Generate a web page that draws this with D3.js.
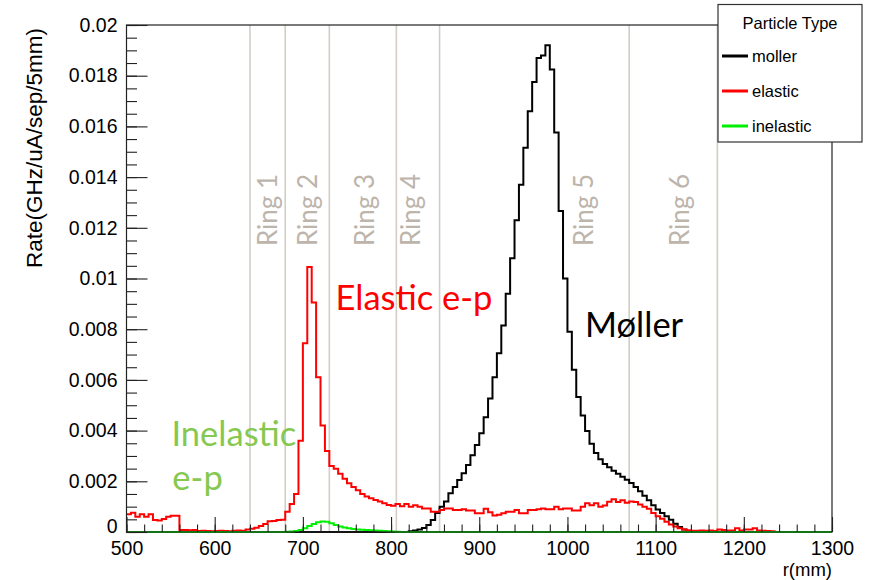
<!DOCTYPE html>
<html><head><meta charset="utf-8">
<script src="https://cdn.jsdelivr.net/npm/d3@7"></script>
<style>body{margin:0;background:#fff}svg{display:block}</style>
</head><body>
<svg id="chart" width="871" height="580"></svg>
<script>
// ---- data (rate in GHz/uA/sep/5mm, 5 mm bins from 500 mm) ----
const binStart = 500;
const binWidth = 5;
const moller = [
 0,0,0,0,0,0,0,0,0,0, 0,0,0,0,0,0,0,0,0,0,
 0,0,0,0,0,0,0,0,0,0, 0,0,0,0,0,0,0,0,0,0,
 0,0,0,0,0,0,0,0,0,0, 0,0,0,0,0,0,0,0,0,0,
 0,0,0,0,
 0.00003,0.00006,0.0001,0.00016,0.00028,0.00047,0.00075,0.001,0.0012,0.00153,
 0.00178,0.00205,0.00232,0.00264,0.00303,0.00343,0.0039,0.00453,0.00527,0.0061,
 0.00705,0.00815,0.0094,0.0108,0.0123,0.0137,0.01516,0.0166,0.01775,0.0187,
 0.0188,0.0192,0.01824,0.01576,0.01266,0.01,0.0079,0.0064,0.00533,0.0046,
 0.00398,0.00348,0.00312,0.00287,0.00268,0.00255,0.00242,0.0023,0.00218,0.00206,
 0.00193,0.00178,0.00161,0.00143,0.00125,0.00106,0.00089,0.00075,0.00062,0.00048,
 0.00033,0.0002,0.0001,0.00004,0.00001,
 0,0,0,0,0,0,0,0,0,0, 0,0,0,0,0,0,0,0,0,0, 0,0,0,0,0,0,0,0,0,0, 0
];
const elastic = [
 0.0007,0.00076,0.0006,0.0007,0.0006,0.0007,0.00047,0.00045,0.00051,0.0006,0.00064,0.00064,
 0.00008,0.00008,0.00007,0.00008,0.00004,0.00005,0.00004,0.00003,0.00004,0.00005,0.00004,0.00003,0.00005,0.00006,
 0.00005,0.0001,0.00013,0.00017,0.00024,0.00032,0.00042,0.00043,0.00047,0.00048,0.0008,0.0011,0.0015,
 0.0036,0.00745,0.01045,0.00905,0.0061,0.0042,0.0032,0.0026,
 0.0025,0.0023,0.0021,0.00192,0.00178,0.00165,0.0015,0.0014,0.00133,0.00126,0.0012,0.00113,0.00107,0.00104,0.0011,0.00102,0.0011,
 0.001,0.00106,0.001,0.00093,0.00093,0.0008,0.0008,0.00087,0.00093,0.00093,
 0.00087,0.00087,0.0009,0.00085,0.00085,0.00074,0.00074,0.00092,0.00078,0.00065,
 0.00068,0.00074,0.0008,0.0008,0.00087,0.00074,0.00074,0.00087,0.00087,0.0009,
 0.00093,0.0009,0.0009,0.001,0.0009,0.00093,0.00093,0.00085,0.00085,0.001,
 0.00113,0.00106,0.00113,0.001,0.00105,0.00119,0.00129,0.00118,0.00125,0.00115,
 0.0012,0.00118,0.00108,0.001,0.00092,0.00075,0.00062,0.00052,0.0004,0.0003,
 0.00022,0.00015,0.0001,0.00007,
 0.00005,0.00005,0.00006,0.00005,0.00006,0.00004,0.0001,0.00008,0.00006,0.00006,0.00015,0.00006,0.0001,0.0001,0.00015,0.00006,0.00005,0.00004,0.00003,
 0,0,0,0,0,0,0,0,0,0,0,0,0
];
const inelastic = [
 0,0,0,0,0,0,0,0,0,0, 0,0,0,0,0,0,0,0,0,0, 0,0,0,0,0,0,0,0,0,0, 0,0,0,0,0,0,
 0.00001,0.00002,0.00004,0.00008,0.00015,0.00024,0.00032,0.00038,0.00041,0.0004,
 0.00035,0.00028,0.00022,0.00018,0.00015,0.00012,0.0001,0.00009,0.00008,0.00007,
 0.00006,0.00005,0.00004,0.00003,0.00002,0.00001,
 0,0,0,0,0,0,0,0,0,0, 0,0,0,0,0,0,0,0,0,0, 0,0,0,0,0,0,0,0,0,0,
 0,0,0,0,0,0,0,0,0,0, 0,0,0,0,0,0,0,0,0,0, 0,0,0,0,0,0,0,0,0,0,
 0,0,0,0,0,0,0,0,0,0, 0,0,0,0,0,0,0,0,0,0, 0,0,0,0,0,0,0,0,0,0,
 0,0,0,0,0,0,0,0
];
const seriesNames = ["moller", "elastic", "inelastic"];
const seriesColors = ["#000000", "#ff0000", "#00ee00"];
const xTickValues = [500, 600, 700, 800, 900, 1000, 1100, 1200, 1300];
const yTickValues = [0, 0.002, 0.004, 0.006, 0.008, 0.01, 0.012, 0.014, 0.016, 0.018, 0.02];
const yTickLabels = ["0", "0.002", "0.004", "0.006", "0.008", "0.01", "0.012", "0.014", "0.016", "0.018", "0.02"];
const ringEdges = [640, 680, 730, 806, 855, 1070, 1170];
const ringNames = ["Ring 1", "Ring 2", "Ring 3", "Ring 4", "Ring 5", "Ring 6"];
const ringLabelR = [660, 706, 771, 823, 1019, 1128];
const annotations = [
  {text: "Elastic e-p", r: 737, v: 0.00875, color: "#ff0000"},
  {text: "Møller", r: 1020, v: 0.00768, color: "#000000"},
  {text: "Inelastic", r: 551, v: 0.00341, color: "#86c850"},
  {text: "e-p", r: 552, v: 0.00165, color: "#86c850"}
];

// ---- drawing ----
const svg = d3.select("#chart");
const M = {left: 126.5, right: 832, top: 25, bottom: 532};
const x = d3.scaleLinear().domain([500, 1300]).range([M.left, M.right]);
const y = d3.scaleLinear().domain([0, 0.02]).range([M.bottom, M.top]);
const axisFont = "'Liberation Sans', Arial, Helvetica, sans-serif";
const textFont = "Lato, 'Open Sans', sans-serif";

// ring lines
svg.append("g").selectAll("line").data(ringEdges).join("line")
  .attr("x1", d => x(d)).attr("x2", d => x(d))
  .attr("y1", M.top).attr("y2", M.bottom)
  .attr("stroke", "#d3cdc7").attr("stroke-width", 1.6);

// ring labels
svg.append("g").selectAll("text").data(ringNames).join("text")
  .attr("transform", (d, i) => `translate(${x(ringLabelR[i]) + 9},246) rotate(-90)`)
  .attr("font-family", textFont).attr("font-size", 26)
  .attr("fill", "#bdb5ab").text(d => d);

// histograms
const seriesData = [moller, elastic, inelastic];
const line = d3.line().curve(d3.curveStepAfter).x(d => x(d[0])).y(d => y(d[1]));
seriesData.forEach((vals, si) => {
  const pts = vals.map((v, i) => [binStart + i * binWidth, v]);
  pts.push([binStart + vals.length * binWidth, vals[vals.length - 1]]);
  svg.append("path").datum(pts)
    .attr("d", line).attr("fill", "none")
    .attr("stroke", seriesColors[si]).attr("stroke-width", 2)
    .attr("stroke-linejoin", "miter");
});

// axes ticks
const gx = svg.append("g").attr("transform", `translate(0,${M.bottom})`)
  .call(d3.axisBottom(x).tickValues(xTickValues).tickSize(-15).tickPadding(24).tickFormat(d3.format("d")));
const gxm = svg.append("g").attr("transform", `translate(0,${M.bottom})`)
  .call(d3.axisBottom(x).tickValues(d3.range(500, 1301, 20)).tickSize(-7.5).tickFormat(""));
const gy = svg.append("g").attr("transform", `translate(${M.left},0)`)
  .call(d3.axisLeft(y).tickValues(yTickValues).tickSize(-21).tickPadding(9).tickFormat((d, i) => yTickLabels[i]));
const gym = svg.append("g").attr("transform", `translate(${M.left},0)`)
  .call(d3.axisLeft(y).tickValues(d3.range(0, 41).map(i => i * 0.0005)).tickSize(-10.5).tickFormat(""));
[gx, gxm, gy, gym].forEach(g => {
  g.select(".domain").remove();
  g.selectAll("line").attr("stroke", "#222").attr("stroke-width", 1.1);
  g.selectAll("text").attr("font-family", axisFont).attr("font-size", 19.5).attr("fill", "#000");
});
gx.selectAll("text").attr("dy", "-0.05em");
gy.selectAll("text").filter(d => d === 0).attr("dy", "0.05em");

// frame
svg.append("rect").attr("x", M.left).attr("y", M.top)
  .attr("width", M.right - M.left).attr("height", M.bottom - M.top)
  .attr("fill", "none").attr("stroke", "#222").attr("stroke-width", 1.2);

// axis titles
svg.append("text").attr("transform", `translate(42,${M.top + 3}) rotate(-90)`)
  .attr("text-anchor", "end").attr("font-family", axisFont).attr("font-size", 22.5)
  .text("Rate(GHz/uA/sep/5mm)");
svg.append("text").attr("x", M.right).attr("y", 576).attr("text-anchor", "end")
  .attr("font-family", axisFont).attr("font-size", 18.5).text("r(mm)");

// annotations
svg.append("g").selectAll("text").data(annotations).join("text")
  .attr("x", d => x(d.r)).attr("y", d => y(d.v))
  .attr("font-family", textFont).attr("font-size", 34.5)
  .attr("fill", d => d.color).text(d => d.text);

// legend
const lg = svg.append("g");
lg.append("rect").attr("x", 718).attr("y", 4.5).attr("width", 144).attr("height", 137.5)
  .attr("fill", "#fff").attr("stroke", "#333").attr("stroke-width", 1.2);
lg.append("text").attr("x", 790).attr("y", 29).attr("text-anchor", "middle")
  .attr("font-family", axisFont).attr("font-size", 16.5).text("Particle Type");
seriesNames.forEach((n, i) => {
  const yy = 56 + i * 35;
  lg.append("line").attr("x1", 722).attr("x2", 748).attr("y1", yy).attr("y2", yy)
    .attr("stroke", seriesColors[i]).attr("stroke-width", 3);
  lg.append("text").attr("x", 752).attr("y", yy + 6)
    .attr("font-family", axisFont).attr("font-size", 16.5).text(n);
});
</script>
</body></html>
